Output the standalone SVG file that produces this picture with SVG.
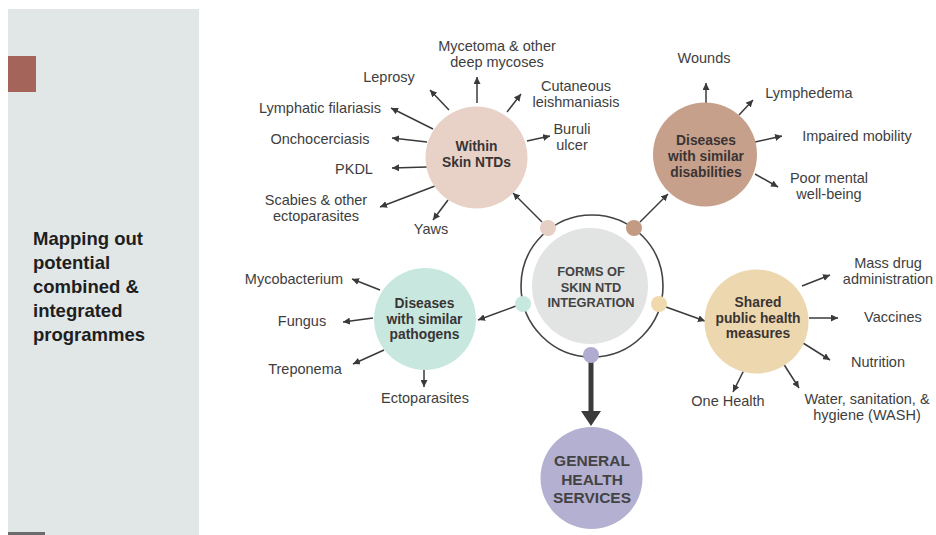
<svg xmlns="http://www.w3.org/2000/svg" width="936" height="535" viewBox="0 0 936 535">
  <style>
    .lbl { font-family: "Liberation Sans", Arial, sans-serif; font-size: 14.5px; fill: #3e3e3e; text-anchor: middle; }
    .node-t { font-family: "Liberation Sans", Arial, sans-serif; font-size: 13.8px; font-weight: bold; fill: #3a3434; text-anchor: middle; }
    .caps { font-family: "Liberation Sans", Arial, sans-serif; font-weight: bold; fill: #434343; text-anchor: middle; }
    .side { font-family: "Liberation Sans", Arial, sans-serif; font-size: 18.5px; font-weight: bold; fill: #1e1e1e; }
    .arr { stroke: #3a3a3a; stroke-width: 1.5; fill: none; marker-end: url(#tip); }
  </style>
  <defs>
    <marker id="tip" markerUnits="userSpaceOnUse" markerWidth="8" markerHeight="7" refX="7" refY="3.5" orient="auto">
      <path d="M0,0 L7,3.5 L0,7 z" fill="#3a3a3a"/>
    </marker>
  </defs>

  <rect width="936" height="535" fill="#ffffff"/>

  <!-- side panel -->
  <g id="side-panel">
    <rect x="8" y="9" width="191" height="526" fill="#e1e6e6"/>
    <rect x="8" y="56" width="28" height="36" fill="#a5645a"/>
    <rect x="8" y="532" width="37" height="3" fill="#6b6b6b"/>
    <text class="side" x="33" y="245">Mapping out</text>
    <text class="side" x="33" y="269">potential</text>
    <text class="side" x="33" y="293">combined &amp;</text>
    <text class="side" x="33" y="317">integrated</text>
    <text class="side" x="33" y="341">programmes</text>
  </g>

  <!-- connectors -->
  <g id="connectors">
    <!-- Within Skin NTDs -->
    <line class="arr" x1="477" y1="103" x2="477" y2="77"/>
    <line class="arr" x1="449" y1="110" x2="430" y2="90"/>
    <line class="arr" x1="433" y1="129" x2="391" y2="108"/>
    <line class="arr" x1="427" y1="142" x2="392" y2="138"/>
    <line class="arr" x1="427" y1="167" x2="392" y2="168"/>
    <line class="arr" x1="435" y1="186" x2="380" y2="207"/>
    <line class="arr" x1="448" y1="200" x2="433" y2="220"/>
    <line class="arr" x1="507" y1="112" x2="521" y2="94"/>
    <line class="arr" x1="527" y1="141" x2="550" y2="136"/>
    <!-- Diseases with similar disabilities -->
    <line class="arr" x1="706" y1="103" x2="706" y2="83"/>
    <line class="arr" x1="739" y1="115" x2="753" y2="100"/>
    <line class="arr" x1="755" y1="142" x2="782" y2="136"/>
    <line class="arr" x1="755" y1="174" x2="778" y2="187"/>
    <!-- Diseases with similar pathogens -->
    <line class="arr" x1="380" y1="290" x2="352" y2="279"/>
    <line class="arr" x1="373" y1="318" x2="343" y2="322"/>
    <line class="arr" x1="384" y1="350" x2="353" y2="364"/>
    <line class="arr" x1="424" y1="369" x2="424" y2="387"/>
    <!-- Shared public health measures -->
    <line class="arr" x1="802" y1="286" x2="830" y2="275"/>
    <line class="arr" x1="809" y1="318" x2="838" y2="318"/>
    <line class="arr" x1="803" y1="343" x2="830" y2="360"/>
    <line class="arr" x1="745" y1="368" x2="733" y2="392"/>
    <line class="arr" x1="783" y1="363" x2="799" y2="388"/>
    <!-- hub to nodes -->
    <line class="arr" x1="542" y1="222" x2="513" y2="193"/>
    <line class="arr" x1="640" y1="222" x2="668" y2="194"/>
    <line class="arr" x1="516" y1="306" x2="478" y2="320"/>
    <line class="arr" x1="666" y1="307" x2="705" y2="321"/>
    <!-- hub to general health services -->
    <line x1="591" y1="362" x2="591" y2="412" stroke="#3b3b3b" stroke-width="5"/>
    <polygon points="581,411 601,411 591,426" fill="#3b3b3b"/>
  </g>

  <!-- hub -->
  <g id="hub">
    <circle cx="592" cy="286" r="71" fill="#ffffff" stroke="#444444" stroke-width="1.6"/>
    <circle cx="590" cy="286" r="58" fill="#e2e3e3"/>
    <circle cx="548" cy="228" r="8" fill="#e6cfc4"/>
    <circle cx="634" cy="228" r="8" fill="#c39a82"/>
    <circle cx="523" cy="304" r="8" fill="#c6e8df"/>
    <circle cx="659" cy="304" r="8" fill="#efd9ad"/>
    <circle cx="591" cy="355" r="8" fill="#b0acd0"/>
    <text class="caps" x="591" y="276" font-size="12.8">FORMS OF</text>
    <text class="caps" x="591" y="292" font-size="12.8">SKIN NTD</text>
    <text class="caps" x="591" y="307" font-size="12.8">INTEGRATION</text>
  </g>

  <g id="within-skin-ntds">
    <circle cx="476.5" cy="157.5" r="51" fill="#e8d2c8"/>
    <text class="node-t" x="476.5" y="151">Within</text>
    <text class="node-t" x="476.5" y="166.5">Skin NTDs</text>
    <text class="lbl" x="497" y="51">Mycetoma &amp; other</text>
    <text class="lbl" x="497" y="67">deep mycoses</text>
    <text class="lbl" x="389" y="82">Leprosy</text>
    <text class="lbl" x="320" y="113">Lymphatic filariasis</text>
    <text class="lbl" x="320" y="144">Onchocerciasis</text>
    <text class="lbl" x="354" y="174">PKDL</text>
    <text class="lbl" x="316" y="205">Scabies &amp; other</text>
    <text class="lbl" x="316" y="220.5">ectoparasites</text>
    <text class="lbl" x="431" y="234">Yaws</text>
    <text class="lbl" x="576" y="91">Cutaneous</text>
    <text class="lbl" x="576" y="107">leishmaniasis</text>
    <text class="lbl" x="572" y="134">Buruli</text>
    <text class="lbl" x="572" y="149.5">ulcer</text>
  </g>

  <g id="similar-disabilities">
    <circle cx="705" cy="154.5" r="52" fill="#c6a08b"/>
    <text class="node-t" x="706" y="145">Diseases</text>
    <text class="node-t" x="706" y="161">with similar</text>
    <text class="node-t" x="706" y="176.5">disabilities</text>
    <text class="lbl" x="704" y="63">Wounds</text>
    <text class="lbl" x="809" y="98">Lymphedema</text>
    <text class="lbl" x="857" y="141">Impaired mobility</text>
    <text class="lbl" x="829" y="183">Poor mental</text>
    <text class="lbl" x="829" y="199">well-being</text>
  </g>

  <g id="similar-pathogens">
    <circle cx="425" cy="319" r="51" fill="#c8e8df"/>
    <text class="node-t" x="424.5" y="308">Diseases</text>
    <text class="node-t" x="424.5" y="323.5">with similar</text>
    <text class="node-t" x="424.5" y="339">pathogens</text>
    <text class="lbl" x="294" y="284">Mycobacterium</text>
    <text class="lbl" x="302" y="326">Fungus</text>
    <text class="lbl" x="305" y="374">Treponema</text>
    <text class="lbl" x="425" y="403">Ectoparasites</text>
  </g>

  <g id="shared-public-health">
    <circle cx="756.5" cy="321.5" r="52" fill="#edd7ae"/>
    <text class="node-t" x="758" y="307">Shared</text>
    <text class="node-t" x="758" y="322.5">public health</text>
    <text class="node-t" x="758" y="338">measures</text>
    <text class="lbl" x="888" y="268">Mass drug</text>
    <text class="lbl" x="888" y="283.5">administration</text>
    <text class="lbl" x="893" y="322">Vaccines</text>
    <text class="lbl" x="878" y="367">Nutrition</text>
    <text class="lbl" x="728" y="406">One Health</text>
    <text class="lbl" x="867" y="404">Water, sanitation, &amp;</text>
    <text class="lbl" x="867" y="420">hygiene (WASH)</text>
  </g>

  <g id="general-health-services">
    <circle cx="591.5" cy="478" r="51" fill="#b3b0d2"/>
    <text class="caps" x="592" y="466" font-size="15.5" fill="#3d3d48">GENERAL</text>
    <text class="caps" x="592" y="485" font-size="15.5" fill="#3d3d48">HEALTH</text>
    <text class="caps" x="592" y="503" font-size="15.5" fill="#3d3d48">SERVICES</text>
  </g>
</svg>
